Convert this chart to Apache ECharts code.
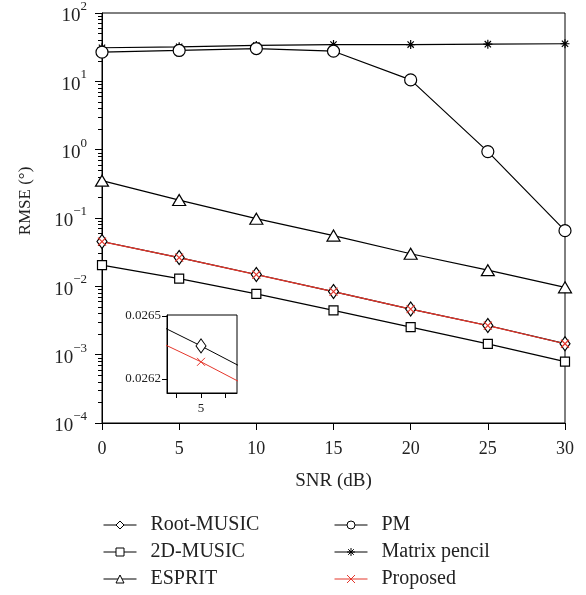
<!DOCTYPE html>
<html>
<head>
<meta charset="utf-8">
<script src="https://cdn.jsdelivr.net/npm/echarts@6/dist/echarts.min.js"></script>
<style>html,body{margin:0;padding:0;background:#fff}#c{width:586px;height:595px}</style>
</head>
<body>
<div id="c"></div>
<script>
// ---- data ----
var snr = [0, 5, 10, 15, 20, 25, 30];
var rootMusic = [0.0453, 0.02636, 0.0149, 0.00838, 0.00465, 0.00267, 0.00145];
var music2D = [0.0204, 0.0130, 0.00776, 0.00445, 0.00253, 0.00144, 0.00079];
var esprit = [0.352, 0.183, 0.0977, 0.0553, 0.030, 0.01725, 0.00966];
var pm = [26.7, 28.3, 30.2, 27.6, 10.5, 0.937, 0.0653];
var matrixPencil = [31, 32, 33.5, 34.5, 34.5, 35, 35.5];
var proposed = [0.0451, 0.02628, 0.01485, 0.00835, 0.00463, 0.00266, 0.001445];
// inset (zoom around SNR = 5 dB)
var insetX = [4, 5, 6];
var insetRoot = [0.026474, 0.026357, 0.026234];
var insetProposed = [0.026393, 0.026281, 0.026158];
var insetYTicks = [0.0262, 0.0265];
var insetXTicks = [4.5, 5, 5.5];
var insetXLabels = [5];
var legendLeft = ['Root-MUSIC', '2D-MUSIC', 'ESPRIT'];
var legendRight = ['PM', 'Matrix pencil', 'Proposed'];

var FONT = 'Liberation Serif';
var RED = '#e4362b';
var LW = 1.2;
var minorTicks = [];
for (var d = -4; d < 2; d++) {
  for (var k = 2; k <= 9; k++) minorTicks.push(d + Math.log10(k));
}
function pairs(xs, v, logT) {
  return xs.map(function (x, i) { return [x, logT ? Math.log10(v[i]) : v[i]]; });
}
var starPath = 'path://M0,5L10,5M5,0L5,10M1.5,1.5L8.5,8.5M8.5,1.5L1.5,8.5';
var xPath = 'path://M0,0L10,10M10,0L0,10';

function mkSeries(name, vals, symbol, size, color) {
  var hollow = (symbol.indexOf('path://') === 0);
  return {
    name: name, type: 'line', xAxisIndex: 0, yAxisIndex: 0,
    data: pairs(snr, vals, true),
    symbol: symbol, symbolSize: size, showAllSymbol: true,
    lineStyle: { color: color, width: LW },
    itemStyle: { color: hollow ? 'rgba(255,255,255,0)' : '#fff', borderColor: color, borderWidth: LW },
    emphasis: { disabled: true },
    animation: false, z: 3
  };
}

var chart = echarts.init(document.getElementById('c'), null, { renderer: 'canvas' });
function mkLegend(left, top, name) {
  return {
    left: left, top: top, orient: 'horizontal', padding: 0,
    itemWidth: 33, itemHeight: 10, data: [name], selectedMode: false,
    lineStyle: { width: 1 },
    itemStyle: { borderWidth: 1 },
    textStyle: { fontFamily: FONT, fontSize: 20, color: '#222', padding: [0, 0, 0, 9] }
  };
}
var legends = [];
legendLeft.forEach(function (n, i) { legends.push(mkLegend(103, 515 + i * 27, n)); });
legendRight.forEach(function (n, i) { legends.push(mkLegend(334, 515 + i * 27, n)); });

chart.setOption({
  backgroundColor: '#fff',
  animation: false,
  legend: legends,
  grid: [
    { left: 102, top: 8, width: 463, height: 415, show: true, borderColor: '#000', borderWidth: 1, backgroundColor: 'transparent' },
    { left: 167, top: 315, width: 70, height: 78, show: true, borderColor: '#000', borderWidth: 1, backgroundColor: '#fff', z: 5 }
  ],
  xAxis: [
    {
      gridIndex: 0, type: 'value', min: 0, max: 30, interval: 5,
      name: 'SNR (dB)', nameLocation: 'middle', nameGap: 49,
      nameTextStyle: { fontFamily: FONT, fontSize: 19, color: '#222' },
      axisLine: { onZero: false, lineStyle: { color: '#000', width: 1 } },
      axisTick: { length: 7, lineStyle: { color: '#000' } },
      axisLabel: { fontFamily: FONT, fontSize: 18, color: '#222', margin: 17 },
      splitLine: { show: false }
    },
    {
      gridIndex: 1, type: 'value', min: 4.31, max: 5.73, z: 6,
      axisLine: { onZero: false, lineStyle: { color: '#000', width: 1 } },
      axisTick: { length: 5, customValues: insetXTicks, lineStyle: { color: '#000' } },
      axisLabel: { fontFamily: FONT, fontSize: 13, color: '#222', margin: 9, customValues: insetXLabels },
      splitLine: { show: false }
    }
  ],
  yAxis: [
    {
      gridIndex: 0, type: 'value', position: 'left', min: -4, max: 2, interval: 1,
      name: 'RMSE (°)', nameLocation: 'middle', nameGap: 68,
      nameTextStyle: { fontFamily: FONT, fontSize: 17, color: '#222', padding: [0, 0, 0, 34] },
      axisLine: { onZero: false, lineStyle: { color: '#000', width: 1 } },
      axisTick: { length: 7, lineStyle: { color: '#000' } },
      axisLabel: {
        margin: 15,
        formatter: function (v) { return '{b|10}{s|' + (v < 0 ? '−' : '') + Math.abs(v) + '}'; },
        rich: {
          b: { fontFamily: FONT, fontSize: 19, color: '#222', lineHeight: 26, verticalAlign: 'bottom' },
          s: { fontFamily: FONT, fontSize: 13, color: '#222', lineHeight: 26, verticalAlign: 'top' }
        }
      },
      splitLine: { show: false }
    },
    {
      gridIndex: 0, type: 'value', position: 'left', min: -4, max: 2,
      axisLine: { show: false, onZero: false },
      axisTick: { length: 4, customValues: minorTicks, lineStyle: { color: '#000' } },
      axisLabel: { show: false },
      splitLine: { show: false }
    },
    {
      gridIndex: 1, type: 'value', min: 0.026132, max: 0.026505, z: 6,
      axisLine: { onZero: false, lineStyle: { color: '#000', width: 1 } },
      axisTick: { length: 5, customValues: insetYTicks, lineStyle: { color: '#000' } },
      axisLabel: {
        fontFamily: FONT, fontSize: 13, color: '#222', margin: 6, customValues: insetYTicks,
        formatter: function (v) { return v.toFixed(4); }
      },
      splitLine: { show: false }
    }
  ],
  series: [
    mkSeries('Matrix pencil', matrixPencil, starPath, 9, '#000'),
    mkSeries('PM', pm, 'circle', 12, '#000'),
    mkSeries('ESPRIT', esprit, 'triangle', [13, 11], '#000'),
    mkSeries('2D-MUSIC', music2D, 'rect', 9, '#000'),
    mkSeries('Root-MUSIC', rootMusic, 'diamond', [10, 14], '#000'),
    mkSeries('Proposed', proposed, xPath, 8, RED),
    {
      name: 'inset-root', type: 'line', xAxisIndex: 1, yAxisIndex: 2, z: 7,
      data: pairs(insetX, insetRoot, false), clip: true,
      symbol: 'diamond', symbolSize: [10, 14],
      lineStyle: { color: '#000', width: 1 },
      itemStyle: { color: '#fff', borderColor: '#000', borderWidth: 1 },
      emphasis: { disabled: true }
    },
    {
      name: 'inset-proposed', type: 'line', xAxisIndex: 1, yAxisIndex: 2, z: 7,
      data: pairs(insetX, insetProposed, false), clip: true,
      symbol: xPath, symbolSize: 8,
      lineStyle: { color: RED, width: 1 },
      itemStyle: { color: 'rgba(255,255,255,0)', borderColor: RED, borderWidth: 1 },
      emphasis: { disabled: true }
    }
  ]
});
</script>
</body>
</html>
